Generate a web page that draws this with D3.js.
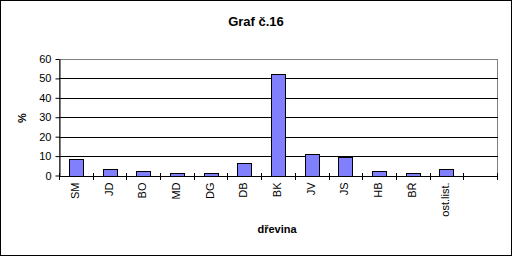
<!DOCTYPE html>
<html>
<head>
<meta charset="utf-8">
<script src="https://cdn.jsdelivr.net/npm/d3@7"></script>
<style>
body { margin: 0; background: #fff; }
svg { display: block; font-family: "Liberation Sans", Arial, sans-serif; }
</style>
</head>
<body>
<svg width="512" height="256"></svg>
<script>
// data
var categories = ["SM", "JD", "BO", "MD", "DG", "DB", "BK", "JV", "JS", "HB", "BŘ", "ost.list.", ""];
var values = [8.5, 3.3, 2.3, 1.3, 1.2, 6.3, 52.3, 10.9, 9.7, 2.3, 1.3, 3.3, null];
var yTicks = [0, 10, 20, 30, 40, 50, 60];

var svg = d3.select("svg");
var width = 512, height = 256;
var plotL = 59, plotR = 497, plotT = 59, plotB = 175.5;

// outer frame
svg.append("rect")
  .attr("x", 0.5).attr("y", 0.5)
  .attr("width", width - 1).attr("height", height - 1)
  .attr("fill", "#fff").attr("stroke", "#000");

var x = d3.scaleBand().domain(categories.map(function(d, i) { return i; }))
  .range([plotL, plotR]).paddingInner(0).paddingOuter(0);
var y = d3.scaleLinear().domain([0, 60]).range([plotB, plotT]);

// plot area border (grey)
svg.append("rect")
  .attr("x", plotL + 0.5).attr("y", Math.round(plotT) + 0.5)
  .attr("width", plotR - plotL).attr("height", Math.round(plotB) - Math.round(plotT))
  .attr("fill", "none").attr("stroke", "#808080");

// gridlines
svg.append("g").selectAll("line")
  .data(yTicks.filter(function(d) { return d > 0 && d < 60; }))
  .enter().append("line")
  .attr("x1", plotL).attr("x2", plotR + 1)
  .attr("y1", function(d) { return Math.round(y(d)) + 0.5; })
  .attr("y2", function(d) { return Math.round(y(d)) + 0.5; })
  .attr("stroke", "#000");

// bars
var bw = 14;
svg.append("g").selectAll("rect")
  .data(values.map(function(v, i) { return {v: v, i: i}; }).filter(function(d) { return d.v != null; }))
  .enter().append("rect")
  .attr("x", function(d) { return Math.round(x(d.i) + x.bandwidth() / 2 - bw / 2) + 0.5; })
  .attr("y", function(d) { return Math.round(y(d.v)) + 0.5; })
  .attr("width", bw)
  .attr("height", function(d) { return Math.round(y(0)) - Math.round(y(d.v)); })
  .attr("fill", "#8080ff").attr("stroke", "#000");

// y axis
var yAxis = svg.append("g")
  .attr("transform", "translate(" + (plotL + 0.5) + ",0)")
  .call(d3.axisLeft(y).tickValues(yTicks).tickSize(4).tickSizeOuter(0).tickPadding(4));
yAxis.select(".domain").attr("stroke", "#000");
yAxis.selectAll("line").attr("stroke", "#000");
yAxis.selectAll("text").attr("font-size", "11px").attr("fill", "#000")
  .attr("font-family", "Liberation Sans, Arial, sans-serif");

// x axis
var xTickPos = d3.range(categories.length + 1).map(function(i) {
  return i < categories.length ? x(i) : plotR;
});
svg.append("line")
  .attr("x1", plotL).attr("x2", plotR + 1)
  .attr("y1", Math.round(plotB) + 0.5).attr("y2", Math.round(plotB) + 0.5)
  .attr("stroke", "#000");
svg.append("g").selectAll("line")
  .data(xTickPos).enter().append("line")
  .attr("x1", function(d) { return Math.round(d) + 0.5; })
  .attr("x2", function(d) { return Math.round(d) + 0.5; })
  .attr("y1", Math.round(plotB) - 3).attr("y2", Math.round(plotB) + 4)
  .attr("stroke", "#000");

svg.append("g").selectAll("text")
  .data(categories).enter().append("text")
  .attr("transform", function(d, i) {
    return "translate(" + (x(i) + x.bandwidth() / 2 + 3) + "," + (plotB + 7) + ") rotate(-90)";
  })
  .attr("text-anchor", "end")
  .attr("font-size", "11px")
  .text(function(d) { return d; });

// titles
svg.append("text")
  .attr("x", 256).attr("y", 26)
  .attr("text-anchor", "middle")
  .attr("font-size", "13px").attr("font-weight", "bold")
  .text("Graf č.16");

svg.append("text")
  .attr("x", 277).attr("y", 233)
  .attr("text-anchor", "middle")
  .attr("font-size", "11px").attr("font-weight", "bold")
  .text("dřevina");

svg.append("text")
  .attr("transform", "translate(26,118) rotate(-90)")
  .attr("text-anchor", "middle")
  .attr("font-size", "11px").attr("font-weight", "bold")
  .text("%");
</script>
</body>
</html>
